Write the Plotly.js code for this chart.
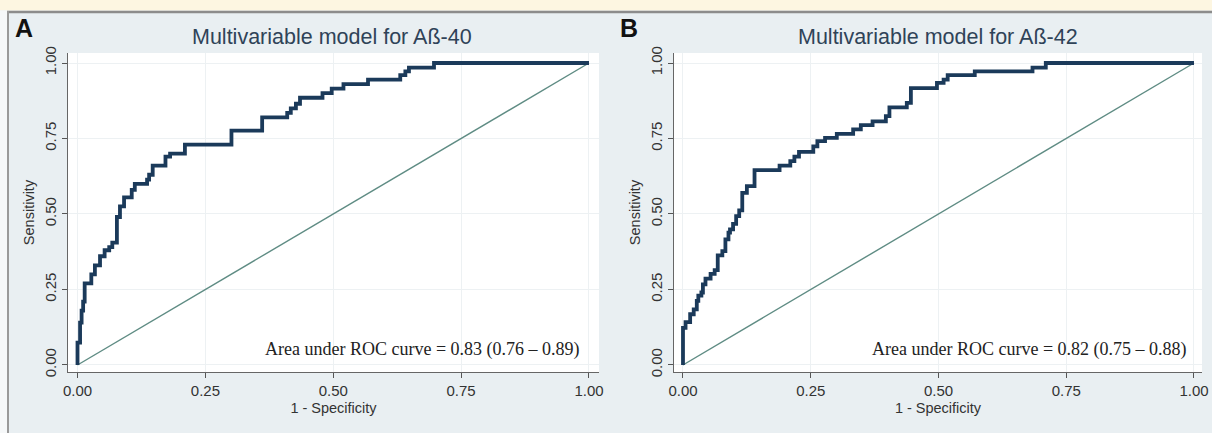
<!DOCTYPE html>
<html>
<head>
<meta charset="utf-8">
<script src="https://cdn.plot.ly/plotly-3.0.1.min.js"></script>
<style>
  html, body { margin: 0; padding: 0; background: #e9eff2; overflow: hidden; }
  #chart { width: 1212px; height: 433px; }
</style>
</head>
<body>
<div id="chart"></div>
<script>
// ---- Data ----
const a40_fpr = [0, 0, 0.005, 0.008, 0.011, 0.014, 0.027, 0.034, 0.044, 0.053, 0.062, 0.068, 0.077, 0.083, 0.091, 0.106, 0.112, 0.136, 0.140, 0.147, 0.172, 0.181, 0.210, 0.301, 0.361, 0.410, 0.417, 0.427, 0.435, 0.479, 0.497, 0.520, 0.568, 0.631, 0.641, 0.648, 0.697, 1.0];
const a40_tpr = [0, 0.074, 0.140, 0.180, 0.210, 0.270, 0.300, 0.330, 0.360, 0.380, 0.390, 0.405, 0.490, 0.525, 0.555, 0.580, 0.600, 0.614, 0.630, 0.660, 0.690, 0.700, 0.730, 0.776, 0.820, 0.835, 0.850, 0.865, 0.885, 0.900, 0.915, 0.930, 0.945, 0.960, 0.972, 0.985, 1.0, 1.0];

const a42_fpr = [0, 0, 0.005, 0.014, 0.021, 0.027, 0.030, 0.036, 0.039, 0.044, 0.054, 0.062, 0.068, 0.077, 0.083, 0.089, 0.092, 0.098, 0.104, 0.110, 0.116, 0.125, 0.140, 0.189, 0.210, 0.218, 0.227, 0.255, 0.263, 0.278, 0.301, 0.333, 0.348, 0.371, 0.397, 0.404, 0.438, 0.446, 0.497, 0.510, 0.518, 0.571, 0.684, 0.710, 1.0];
const a42_tpr = [0, 0.123, 0.142, 0.168, 0.184, 0.212, 0.230, 0.240, 0.267, 0.286, 0.302, 0.314, 0.363, 0.377, 0.416, 0.438, 0.449, 0.467, 0.493, 0.512, 0.570, 0.592, 0.645, 0.660, 0.675, 0.690, 0.706, 0.724, 0.741, 0.752, 0.765, 0.780, 0.794, 0.807, 0.824, 0.853, 0.868, 0.917, 0.934, 0.945, 0.960, 0.972, 0.985, 1.0, 1.0];

const refLine = [0, 1];
const tickVals = [0, 0.25, 0.5, 0.75, 1];
const tickText = ["0.00", "0.25", "0.50", "0.75", "1.00"];

const panelTitles = ["Multivariable model for Aß-40", "Multivariable model for Aß-42"];
const panelLetters = ["A", "B"];
const aucTexts = ["Area under ROC curve = 0.83 (0.76 \u2013 0.89)", "Area under ROC curve = 0.82 (0.75 \u2013 0.88)"];
const xTitle = "1 - Specificity";
const yTitle = "Sensitivity";

// ---- Styling ----
const W = 1212, H = 433;
const px = v => v / W;
const py = v => (H - v) / H;
const curveColor = "#1b3a5a";
const diagColor = "#5f8c84";
const sans = "Liberation Sans, Arial, sans-serif";

const traces = [
  {x: refLine, y: refLine, xaxis: "x", yaxis: "y", mode: "lines", line: {color: diagColor, width: 1.4}, hoverinfo: "skip"},
  {x: a40_fpr, y: a40_tpr, xaxis: "x", yaxis: "y", mode: "lines", line: {color: curveColor, width: 3.8, shape: "hv"}},
  {x: refLine, y: refLine, xaxis: "x2", yaxis: "y2", mode: "lines", line: {color: diagColor, width: 1.4}, hoverinfo: "skip"},
  {x: a42_fpr, y: a42_tpr, xaxis: "x2", yaxis: "y2", mode: "lines", line: {color: curveColor, width: 3.8, shape: "hv"}}
];

function xAxis(domain, range, anchor) {
  return {
    domain: domain, range: range, anchor: anchor,
    tickmode: "array", tickvals: tickVals, ticktext: tickText,
    ticks: "outside", ticklen: 5, tickwidth: 1, tickcolor: "#555",
    showline: true, linecolor: "#666", linewidth: 1,
    showgrid: true, gridcolor: "#edf1f3", gridwidth: 1, zeroline: false,
    tickfont: {family: sans, size: 15, color: "#333"},
    title: {text: xTitle, font: {family: sans, size: 14.5, color: "#333"}, standoff: 4},
    automargin: false, fixedrange: true
  };
}
function yAxis(domain, range, anchor) {
  return {
    domain: domain, range: range, anchor: anchor,
    tickmode: "array", tickvals: tickVals, ticktext: tickText, tickangle: -90,
    ticks: "outside", ticklen: 5, tickwidth: 1, tickcolor: "#555",
    showline: true, linecolor: "#666", linewidth: 1,
    showgrid: true, gridcolor: "#edf1f3", gridwidth: 1, zeroline: false,
    tickfont: {family: sans, size: 15, color: "#333"},
    title: {text: yTitle, font: {family: sans, size: 14.5, color: "#333"}, standoff: 3},
    automargin: false, fixedrange: true
  };
}

const yDom = [py(372), py(53)];
const yRange = [-0.0232, 1.0331];

const annotations = [];
const titleX = [332, 938];
const letterX = [13, 618];
const aucX = [0.987, 0.99];
for (let i = 0; i < 2; i++) {
  annotations.push({xref: "paper", yref: "paper", x: px(titleX[i]), y: py(37), xanchor: "center", yanchor: "middle",
    text: panelTitles[i], showarrow: false, font: {family: sans, size: 21.5, color: "#2f4358"}});
  annotations.push({xref: "paper", yref: "paper", x: px(letterX[i]), y: py(28), xanchor: "left", yanchor: "middle",
    text: "<b>" + panelLetters[i] + "</b>", showarrow: false, font: {family: sans, size: 25, color: "#111"}});
  annotations.push({xref: i === 0 ? "x" : "x2", yref: i === 0 ? "y" : "y2", x: aucX[i], y: 0.05, xanchor: "right", yanchor: "middle",
    text: aucTexts[i], showarrow: false, font: {family: "Liberation Serif, Times New Roman, serif", size: 18, color: "#222"}});
}

const shapes = [
  {type: "rect", xref: "paper", yref: "paper", x0: 0, x1: 1, y0: py(10.5), y1: 1, fillcolor: "#fdf6e1", line: {width: 0}, layer: "below"},
  {type: "rect", xref: "paper", yref: "paper", x0: 0, x1: px(7), y0: 0, y1: py(10.5), fillcolor: "#f6f8f9", line: {width: 0}, layer: "below"},
  {type: "line", xref: "paper", yref: "paper", x0: px(7), x1: 1, y0: py(12), y1: py(12), line: {color: "#8c8c8c", width: 2.5}},
  {type: "line", xref: "paper", yref: "paper", x0: px(8), x1: px(8), y0: 0, y1: py(11), line: {color: "#9a9a9a", width: 2}}
];

const layout = {
  width: W, height: H,
  margin: {l: 0, r: 0, t: 0, b: 0, pad: 0},
  paper_bgcolor: "#e9eff2", plot_bgcolor: "#ffffff",
  showlegend: false,
  xaxis: xAxis([px(68), px(599)], [-0.0186, 1.0196], "y"),
  yaxis: yAxis(yDom, yRange, "x"),
  xaxis2: xAxis([px(674), px(1202)], [-0.0176, 1.0157], "y2"),
  yaxis2: yAxis(yDom, yRange, "x2"),
  annotations: annotations,
  shapes: shapes
};

Plotly.newPlot("chart", traces, layout, {staticPlot: true, displayModeBar: false});
</script>
</body>
</html>
